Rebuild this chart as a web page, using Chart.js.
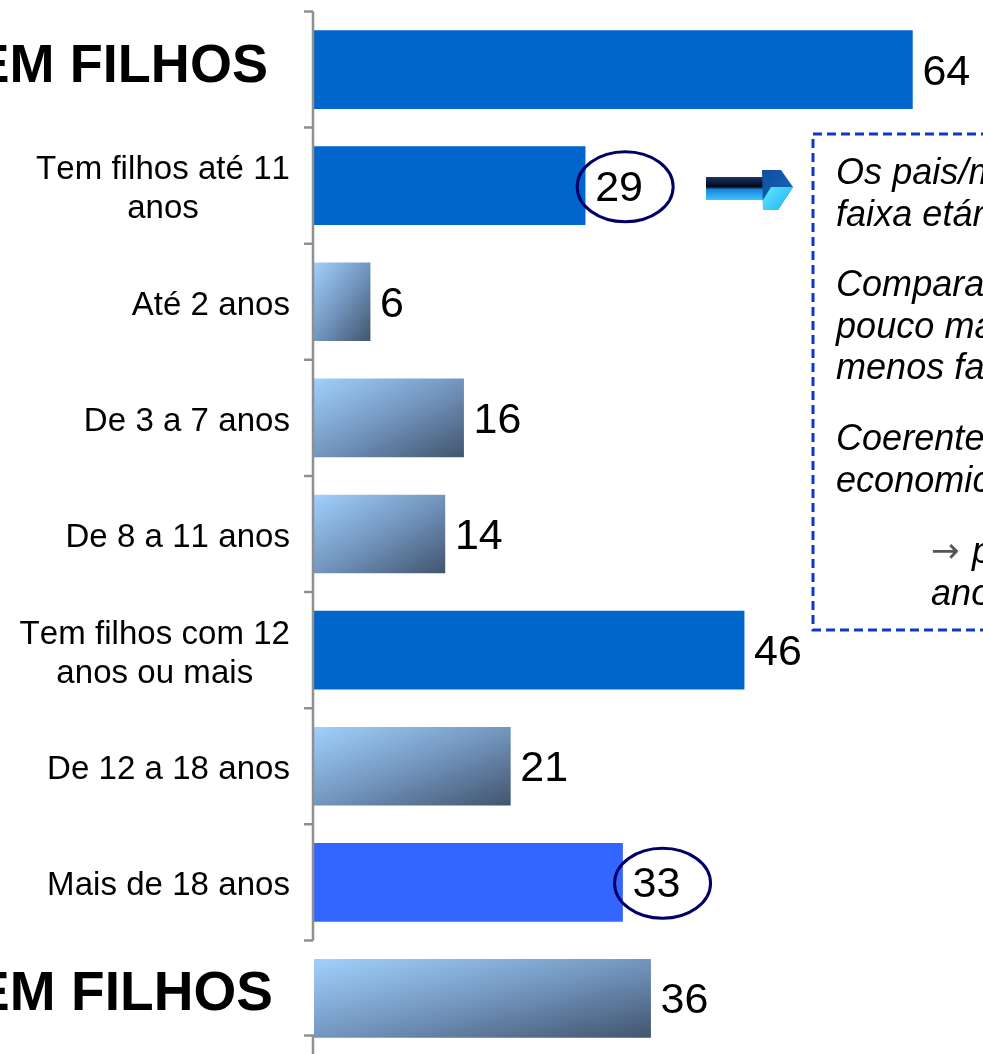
<!DOCTYPE html>
<html>
<head>
<meta charset="utf-8">
<script src="https://cdn.jsdelivr.net/npm/chart.js@4.4.1/dist/chart.umd.min.js"></script>
<style>
  html, body { margin: 0; padding: 0; background: #ffffff; overflow: hidden; }
  canvas { display: block; }
</style>
</head>
<body>
<canvas id="chart" width="983" height="1060"></canvas>
<script>
// ---------- data ----------
const categories = [
  ["TEM FILHOS"],
  ["Tem filhos até 11", "anos"],
  ["Até 2 anos"],
  ["De 3 a 7 anos"],
  ["De 8 a 11 anos"],
  ["Tem filhos com 12", "anos ou mais"],
  ["De 12 a 18 anos"],
  ["Mais de 18 anos"],
  ["NÃO TEM FILHOS"]
];
const values = [64, 29, 6, 16, 14, 46, 21, 33, 36];
const headerRows = [0, 8];        // rows whose label is a big bold heading
const subtotalRows = [0, 1, 5];   // rows drawn as solid blue bars
const highlightRow = 7;           // row drawn in bright blue
const circledRows = [1, 7];       // rows whose value is circled
const noteParagraphs = [
  ["Os pais/mães", "faixa etária"],
  ["Comparado", "pouco mais", "menos fa"],
  ["Coerente", "economica"],
  ["→ p", "anos"]
];

// ---------- styling ----------
const FONT = '"Liberation Sans", Arial, sans-serif';
const BAR_T = 78;
const AXIS_GRAY = '#8f8f8f';

function barGradient(ctx, x0, y0, w, h) {
  const t = 2 * w * h / (w * w + h * h);
  const g = ctx.createLinearGradient(x0, y0, x0 + t * h, y0 + t * w);
  g.addColorStop(0, '#a0d0fb');
  g.addColorStop(0.5, '#7396bf');
  g.addColorStop(1, '#42556e');
  return g;
}

const overlay = {
  id: 'overlay',
  afterDatasetsDraw(chart) {
    const ctx = chart.ctx;
    const xs = chart.scales.x, ys = chart.scales.y;
    const x0 = xs.getPixelForValue(0);
    ctx.save();
    try { ctx.fontKerning = 'none'; } catch (e) {}
    try { ctx.letterSpacing = '0.05px'; } catch (e) {}

    // ---- axis (category axis drawn as bracketed line) ----
    ctx.strokeStyle = AXIS_GRAY;
    ctx.lineWidth = 2.5;
    ctx.setLineDash([]);
    const axX = x0 - 1;
    const topB = ys.getPixelForValue(-0.5);
    const botB = ys.getPixelForValue(7.5);
    ctx.beginPath();
    ctx.moveTo(axX, topB); ctx.lineTo(axX, botB);
    for (let k = 0; k <= 8; k++) {
      const yb = ys.getPixelForValue(k - 0.5);
      ctx.moveTo(axX - 9, yb); ctx.lineTo(axX, yb);
    }
    const yLast = ys.getPixelForValue(8) + 37;
    ctx.moveTo(axX - 9, yLast); ctx.lineTo(axX, yLast); ctx.lineTo(axX, chart.height);
    ctx.stroke();

    // ---- category labels ----
    ctx.fillStyle = '#000000';
    categories.forEach((lines, i) => {
      const yc = ys.getPixelForValue(i);
      if (headerRows.includes(i)) {
        const size = i === 0 ? 54 : 55;
        ctx.font = 'bold ' + size + 'px ' + FONT;
        ctx.textAlign = 'right';
        ctx.textBaseline = 'alphabetic';
        ctx.fillText(lines[0], i === 0 ? 268 : 273, yc + 12);
      } else {
        ctx.font = '33px ' + FONT;
        ctx.textBaseline = 'alphabetic';
        const right = 290;
        const widest = Math.max(...lines.map(l => ctx.measureText(l).width));
        const cx = right - widest / 2;
        ctx.textAlign = 'center';
        const lh = 39;
        const startY = yc + 13 - (lines.length - 1) * lh / 2;
        lines.forEach((l, j) => ctx.fillText(l, cx, startY + j * lh));
      }
    });

    // ---- value labels ----
    ctx.font = '43px ' + FONT;
    ctx.textAlign = 'left';
    ctx.textBaseline = 'alphabetic';
    values.forEach((v, i) => {
      const xe = xs.getPixelForValue(v);
      const yc = ys.getPixelForValue(i);
      ctx.fillStyle = '#000000';
      ctx.fillText(String(v), xe + 10, yc + 15);
      if (circledRows.includes(i)) {
        ctx.strokeStyle = '#000066';
        ctx.lineWidth = 3;
        ctx.beginPath();
        ctx.ellipse(xe + 40, yc + 1, 48, 35, 0, 0, Math.PI * 2);
        ctx.stroke();
      }
    });

    // ---- 3D arrow pointing to note ----
    const sg = ctx.createLinearGradient(0, 177, 0, 200);
    sg.addColorStop(0, '#1b3566');
    sg.addColorStop(0.42, '#000818');
    sg.addColorStop(0.55, '#1a86dc');
    sg.addColorStop(1, '#3cc4ff');
    ctx.fillStyle = sg;
    ctx.fillRect(706, 177, 60, 23);
    const hg = ctx.createLinearGradient(762, 170, 790, 195);
    hg.addColorStop(0, '#0f4e9e');
    hg.addColorStop(1, '#1664b8');
    ctx.fillStyle = hg;
    ctx.beginPath();
    ctx.moveTo(762, 170); ctx.lineTo(781, 170); ctx.lineTo(793, 187);
    ctx.lineTo(778, 210); ctx.lineTo(763, 210); ctx.closePath();
    ctx.fill();
    const cg = ctx.createLinearGradient(765, 186, 790, 210);
    cg.addColorStop(0, '#5ee6ff');
    cg.addColorStop(1, '#22b4f0');
    ctx.fillStyle = cg;
    ctx.beginPath();
    ctx.moveTo(771, 187); ctx.lineTo(793, 187); ctx.lineTo(778, 210);
    ctx.lineTo(763, 210); ctx.lineTo(763, 200); ctx.closePath();
    ctx.fill();

    // ---- dashed note box ----
    ctx.strokeStyle = '#0a3acc';
    ctx.lineWidth = 3;
    ctx.setLineDash([9, 5]);
    ctx.strokeRect(813, 134, 400, 496);
    ctx.setLineDash([]);

    // ---- note text ----
    ctx.fillStyle = '#000000';
    ctx.textAlign = 'left';
    ctx.font = 'italic 36px ' + FONT;
    const paraStarts = [184, 296, 450, 563];
    noteParagraphs.forEach((para, p) => {
      para.forEach((line, j) => {
        const yb = paraStarts[p] + j * 41.5;
        if (p === 3) {
          if (line.startsWith('→')) {
            ctx.fillStyle = '#555555';
            ctx.font = '34px "DejaVu Sans", ' + FONT;
            ctx.fillText('→', 931, yb - 1);
            ctx.fillStyle = '#000000';
            ctx.font = 'italic 36px ' + FONT;
            ctx.fillText(line.slice(2), 972, yb);
          } else {
            ctx.fillText(line, 931, yb);
          }
        } else {
          ctx.fillText(line, 836, yb);
        }
      });
    });

    ctx.restore();
  }
};

new Chart(document.getElementById('chart'), {
  type: 'bar',
  data: {
    labels: categories,
    datasets: [{
      data: values,
      barThickness: BAR_T,
      borderWidth: 0,
      backgroundColor: (c) => {
        const i = c.dataIndex;
        if (subtotalRows.includes(i)) return '#0066cc';
        if (i === highlightRow) return '#3366ff';
        const chart = c.chart;
        const xs = chart.scales && chart.scales.x, ys = chart.scales && chart.scales.y;
        if (!xs || !ys || !chart.chartArea) return '#7396bf';
        const xa = xs.getPixelForValue(0), xb = xs.getPixelForValue(values[i]);
        const yc = ys.getPixelForValue(i);
        return barGradient(chart.ctx, xa, yc - BAR_T / 2, xb - xa, BAR_T);
      }
    }]
  },
  options: {
    indexAxis: 'y',
    responsive: false,
    animation: false,
    devicePixelRatio: 1,
    layout: { padding: { left: 314, right: 14.5, top: 11.5, bottom: 3.5 } },
    scales: {
      x: { display: false, min: 0, max: 70 },
      y: { display: false }
    },
    plugins: {
      legend: { display: false },
      tooltip: { enabled: false },
      title: { display: false }
    }
  },
  plugins: [overlay]
});
</script>
</body>
</html>
